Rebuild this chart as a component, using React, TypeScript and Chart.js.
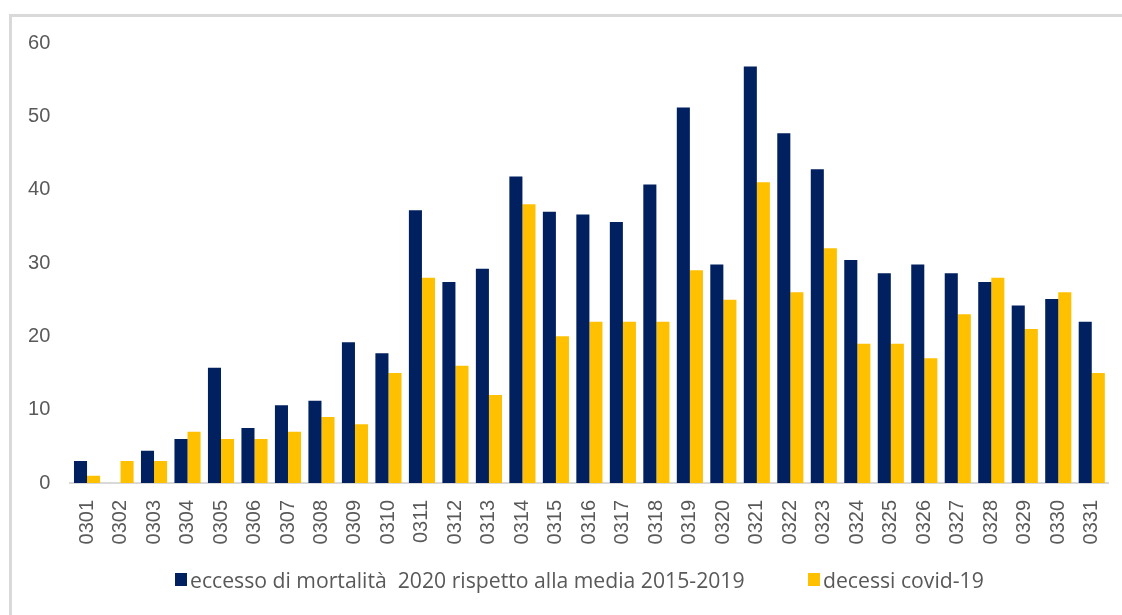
import React, { useEffect, useRef } from "react";
import { Chart, registerables } from "chart.js";

Chart.register(...registerables);

const categories = [
  "0301", "0302", "0303", "0304", "0305", "0306", "0307", "0308", "0309", "0310",
  "0311", "0312", "0313", "0314", "0315", "0316", "0317", "0318", "0319", "0320",
  "0321", "0322", "0323", "0324", "0325", "0326", "0327", "0328", "0329", "0330", "0331",
];

const eccessoMortalita = [
  3, 0, 4.4, 6, 15.7, 7.5, 10.6, 11.2, 19.2, 17.7,
  37.2, 27.4, 29.2, 41.8, 37.0, 36.6, 35.6, 40.7, 51.2, 29.8,
  56.8, 47.7, 42.8, 30.4, 28.6, 29.8, 28.6, 27.4, 24.2, 25.1, 22.0,
];

const decessiCovid = [
  1, 3, 3, 7, 6, 6, 7, 9, 8, 15,
  28, 16, 12, 38, 20, 22, 22, 22, 29, 25,
  41, 26, 32, 19, 19, 17, 23, 28, 21, 26, 15,
];

const seriesNames = [
  "eccesso di mortalità  2020 rispetto alla media 2015-2019",
  "decessi covid-19",
];

const yTicks = [0, 10, 20, 30, 40, 50, 60];

const NAVY = "#002060";
const GOLD = "#FFC000";
const TEXT = "#595959";
const TICK_FONT = "'Liberation Sans', Arial, sans-serif";
const LEGEND_FONT = "'Open Sans', Lato, sans-serif";
const seriesColors = [NAVY, GOLD];
const legendLeft = [175, 808];

export default function App() {
  const ref = useRef<HTMLCanvasElement | null>(null);

  useEffect(() => {
    const canvas = ref.current;
    if (!canvas) return;
    const chart = new Chart(canvas, {
      type: "bar",
      data: {
        labels: categories,
        datasets: [
          {
            label: seriesNames[0],
            data: eccessoMortalita,
            backgroundColor: NAVY,
            borderWidth: 0,
            barPercentage: 1,
            categoryPercentage: 0.78,
          },
          {
            label: seriesNames[1],
            data: decessiCovid,
            backgroundColor: GOLD,
            borderWidth: 0,
            barPercentage: 1,
            categoryPercentage: 0.78,
          },
        ],
      },
      options: {
        responsive: false,
        animation: false,
        layout: { padding: { top: 43, left: 26, right: 13.5, bottom: 70 } },
        plugins: {
          tooltip: { enabled: false },
          legend: { display: false },
        },
        scales: {
          x: {
            grid: { display: false, drawTicks: false },
            border: { display: true, color: "#d9d9d9", width: 2 },
            ticks: {
              color: TEXT,
              font: { family: TICK_FONT, size: 20 },
              minRotation: 90,
              maxRotation: 90,
              autoSkip: false,
              padding: 17,
            },
            afterFit: (scale: any) => {
              scale.paddingLeft = 0;
              scale.paddingRight = 0;
              scale.height = 62;
            },
          },
          y: {
            min: 0,
            max: 60,
            afterBuildTicks: (axis: any) => {
              axis.ticks = yTicks.map((v) => ({ value: v }));
            },
            afterFit: (scale: any) => {
              scale.width = 44.3;
            },
            grid: { display: false, drawTicks: false },
            border: { display: false },
            ticks: {
              color: TEXT,
              font: { family: TICK_FONT, size: 20 },
              padding: 20,
            },
          },
        },
      },
    });
    return () => chart.destroy();
  }, []);

  return (
    <div
      style={{
        position: "fixed",
        left: 0,
        top: 0,
        width: 1122,
        height: 615,
        overflow: "hidden",
        background: "#ffffff",
      }}
    >
      <div
        style={{
          position: "absolute",
          left: 9,
          top: 14,
          width: 1200,
          height: 700,
          borderTop: "3px solid #d9d9d9",
          borderLeft: "3px solid #d9d9d9",
          boxSizing: "border-box",
        }}
      />
      <canvas
        ref={ref}
        width={1122}
        height={615}
        style={{ position: "absolute", left: 0, top: 0, width: 1122, height: 615 }}
      />
      {seriesNames.map((name, i) => (
        <div
          key={name}
          style={{
            position: "absolute",
            left: legendLeft[i],
            top: 565,
            height: 28,
            display: "flex",
            alignItems: "center",
            whiteSpace: "pre",
            fontFamily: LEGEND_FONT,
            fontSize: 21.2,
            color: TEXT,
          }}
        >
          <span
            style={{
              display: "inline-block",
              width: 12,
              height: 13,
              background: seriesColors[i],
              marginRight: 3,
            }}
          />
          <span>{name}</span>
        </div>
      ))}
    </div>
  );
}
